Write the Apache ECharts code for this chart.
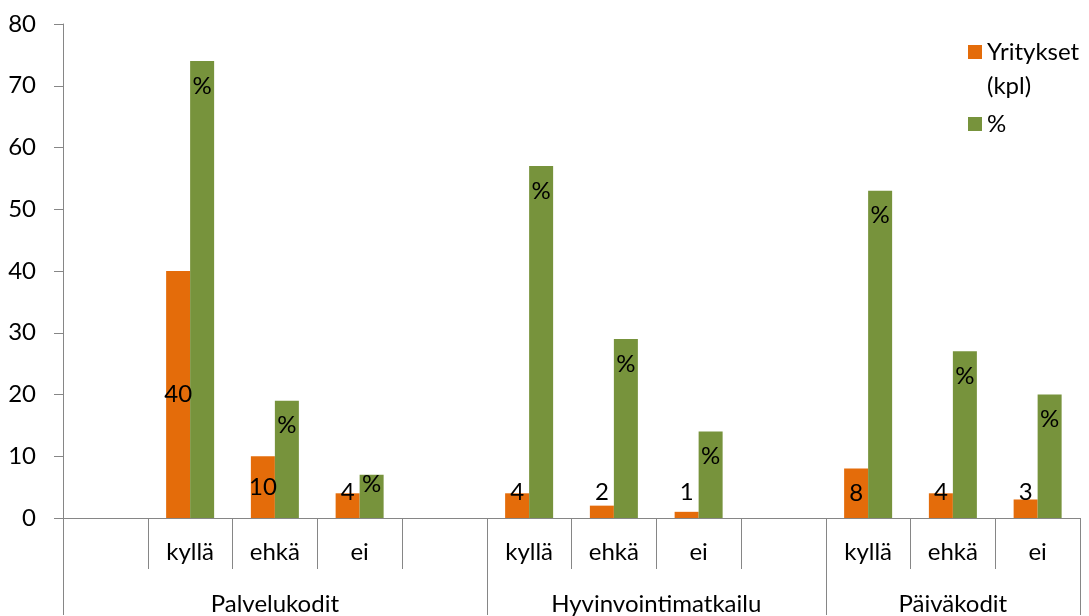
<!DOCTYPE html>
<html><head><meta charset="utf-8">
<script src="https://cdn.jsdelivr.net/npm/echarts@6/dist/echarts.min.js"></script>
<style>html,body{margin:0;padding:0;background:#fff}#c{width:1089px;height:616px}</style>
</head><body><div id="c"></div>
<script>
// ---- data ----
const groups = ['Palvelukodit', 'Hyvinvointimatkailu', 'Päiväkodit'];
const subLabels = ['', 'kyllä', 'ehkä', 'ei', '', 'kyllä', 'ehkä', 'ei', '', 'kyllä', 'ehkä', 'ei'];
const groupOfSlot = [0, 0, 0, 0, 0, 1, 1, 1, 1, 2, 2, 2];
const yritykset = [null, 40, 10, 4, null, 4, 2, 1, null, 8, 4, 3];
const prosentit = [null, 74, 19, 7, null, 57, 29, 14, null, 53, 27, 20];
const seriesNames = ['Yritykset (kpl)', '%'];
const yMin = 0, yMax = 80, yStep = 10;

// ---- layout helpers ----
const W = 1089, H = 616;
const gridL = 63, gridR = 9, gridT = 24, gridB = 97;
const slotW = (W - gridL - gridR) / subLabels.length;
const FONT = 'Lato';

// group boundaries and label positions derived from groupOfSlot
const boundaryIdx = [];
groupOfSlot.forEach((g, i) => { if (i === 0 || groupOfSlot[i - 1] !== g) boundaryIdx.push(i); });
const groupLabelAt = {};
groups.forEach((name, g) => {
  const first = groupOfSlot.indexOf(g), last = groupOfSlot.lastIndexOf(g);
  const c = (first + last) / 2;
  groupLabelAt[Math.floor(c)] = { name, frac: c - Math.floor(c) };
});

const orangeData = yritykset.map(v => v == null ? null : {
  value: v,
  label: v >= 8 ? { position: 'inside' } : { position: 'insideBottom', distance: 14 }
});
const greenData = prosentit.map(v => v == null ? null : {
  value: v,
  label: v >= 10 ? { position: 'insideTop', distance: 13 } : { position: 'insideTop', distance: -3 }
});

const axisGray = '#868686';
const chart = echarts.init(document.getElementById('c'), null, { renderer: 'canvas' });
chart.setOption({
  animation: false,
  textStyle: { fontFamily: FONT },
  legend: {
    orient: 'vertical', left: 968, top: 1, padding: 0,
    itemWidth: 14, itemHeight: 14, itemGap: 4,
    icon: 'rect',
    // wrapped names get an empty first line so the icon sits beside the first text line
    formatter: n => n.indexOf(' ') >= 0 ? '\n' + n.replace(' ', '\n') : n,
    textStyle: { fontFamily: FONT, fontSize: 24, color: '#000', lineHeight: 34 },
    data: seriesNames
  },
  grid: { left: gridL, right: gridR, top: gridT, bottom: gridB, containLabel: false },
  yAxis: {
    type: 'value', min: yMin, max: yMax, interval: yStep,
    axisLine: { show: true, lineStyle: { color: axisGray, width: 1 } },
    axisTick: { show: true, length: 9, lineStyle: { color: axisGray } },
    splitLine: { show: false },
    axisLabel: { fontFamily: FONT, fontSize: 24, color: '#000', margin: 27 }
  },
  xAxis: [
    {
      type: 'category', data: subLabels, position: 'bottom',
      axisLine: { show: true, lineStyle: { color: axisGray, width: 1 } },
      axisTick: { show: true, interval: 0, length: 51, lineStyle: { color: axisGray } },
      axisLabel: { interval: 0, fontFamily: FONT, fontSize: 24, lineHeight: 24, color: '#000', margin: 22 }
    },
    {
      type: 'category', data: groupOfSlot.map(g => groups[g]), position: 'bottom', offset: 0,
      axisLine: { show: false },
      axisTick: { show: true, length: 97, interval: (i) => boundaryIdx.indexOf(i) >= 0, lineStyle: { color: axisGray } },
      axisLabel: {
        interval: 0, fontFamily: FONT, fontSize: 24, lineHeight: 24, color: '#000', margin: 74,
        formatter: (v, i) => {
          const g = groupLabelAt[i];
          if (!g) return '';
          return g.frac ? '{s|' + g.name + '}' : '{n|' + g.name + '}';
        },
        rich: {
          s: { fontFamily: FONT, fontSize: 24, color: '#000', padding: [0, 0, 0, slotW] },
          n: { fontFamily: FONT, fontSize: 24, color: '#000' }
        }
      }
    }
  ],
  series: [
    {
      name: seriesNames[0], type: 'bar', xAxisIndex: 0, data: orangeData,
      barWidth: 24, barGap: '0%',
      itemStyle: { color: '#E46C0A' },
      label: { show: true, color: '#000', fontFamily: FONT, fontSize: 24, lineHeight: 24 }
    },
    {
      name: seriesNames[1], type: 'bar', xAxisIndex: 0, data: greenData,
      barWidth: 24, barGap: '0%',
      itemStyle: { color: '#77933C' },
      label: { show: true, color: '#000', fontFamily: FONT, fontSize: 24, lineHeight: 24, formatter: '%' }
    }
  ]
});
</script></body></html>
